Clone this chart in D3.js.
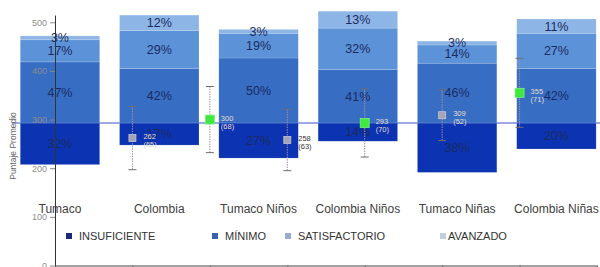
<!DOCTYPE html>
<html>
<head>
<meta charset="utf-8">
<script src="https://cdn.jsdelivr.net/npm/d3@7"></script>
<style>
body { margin: 0; background: #fff; }
svg { display: block; font-family: "Liberation Sans", Arial, sans-serif; }
</style>
</head>
<body>
<div id="graph"></div>
<script>
// Categorías de las barras
let categorias = ["Tumaco", "Colombia", "Tumaco Niños", "Colombia Niños", "Tumaco Niñas", "Colombia Niñas"];
let niveles = ["INSUFICIENTE", "MÍNIMO", "SATISFACTORIO", "AVANZADO"];

// Porcentaje de estudiantes por nivel
let insuficiente  = [32, 17, 27, 14, 38, 20];
let minimo        = [47, 42, 50, 41, 46, 42];
let satisfactorio = [17, 29, 19, 32, 14, 27];
let avanzado      = [ 3, 12,  3, 13,  3, 11];

// Puntaje promedio (desviación estándar)
let grupoPunto = ["Tumaco", "Colombia", "Tumaco", "Colombia", "Tumaco", "Colombia"];
let promedio   = [262, 300, 258, 293, 309, 355];
let desviacion = [ 65,  68,  63,  70,  52,  71];

let ticksPuntaje = [0, 100, 200, 300, 400, 500];

// Colores
let colores = ["#0b33b2", "#376ec4", "#5b92d8", "#8db6e7"];
let colorLeyenda = ["#1a2c78", "#3a62b0", "#98abd0", "#c2cde0"];

let largeurTotale = 600, hauteurTotale = 267;

let svg = d3.select("#graph").append("svg")
    .attr("width", largeurTotale)
    .attr("height", hauteurTotale);

// Echelles
let echelleX = d3.scaleBand()
    .domain(categorias)
    .range([0.4, 616])
    .padding(0.2);

// porcentaje: 0 sobre la línea de corte
let echellePct = d3.scaleLinear()
    .domain([-40, 100])
    .range([175, -7]);

let echellePuntaje = d3.scaleLinear()
    .domain([0, 515])
    .range([265.5, 15]);

let echelleIdx = d3.scaleLinear()
    .domain([0, 7])
    .range([55, 597]);

// Línea de corte
svg.append("line")
    .attr("x1", 12).attr("x2", 600)
    .attr("y1", echellePct(0)).attr("y2", echellePct(0))
    .attr("stroke", "#7b8cdb")
    .attr("stroke-width", 1.5);

// Segmentos apilados
let segmentos = [];
categorias.forEach(function(c, i) {
  let v = [insuficiente[i], minimo[i], satisfactorio[i], avanzado[i]];
  segmentos.push({ cat: c, nivel: 0, y0: 0, y1: -v[0], val: v[0] });
  let acum = 0;
  for (let k = 1; k < 4; k++) {
    segmentos.push({ cat: c, nivel: k, y0: acum, y1: acum + v[k], val: v[k] });
    acum += v[k];
  }
});

svg.selectAll(".seg")
  .data(segmentos)
  .enter()
  .append("rect")
    .attr("class", "seg")
    .attr("x", function(d) { return echelleX(d.cat); })
    .attr("width", echelleX.bandwidth())
    .attr("y", function(d) { return echellePct(Math.max(d.y0, d.y1)); })
    .attr("height", function(d) { return Math.abs(echellePct(d.y0) - echellePct(d.y1)); })
    .style("fill", function(d) { return colores[d.nivel]; })
    .style("stroke", "rgba(255,255,255,0.25)")
    .style("stroke-width", 0.6);

svg.selectAll(".pct")
  .data(segmentos)
  .enter()
  .append("text")
    .attr("class", "pct")
    .attr("x", function(d) { return echelleX(d.cat) + echelleX.bandwidth() / 2; })
    .attr("y", function(d) { return echellePct((d.y0 + d.y1) / 2); })
    .attr("dy", "0.35em")
    .attr("text-anchor", "middle")
    .style("font-size", "12.5px")
    .style("fill", "#1b2b62")
    .text(function(d) { return d.val + "%"; });

// Eje Y
let axeY = d3.axisLeft(echellePuntaje)
    .tickValues(ticksPuntaje)
    .tickSize(5)
    .tickSizeOuter(0);

let gY = svg.append("g")
    .attr("transform", "translate(55,0)")
    .call(axeY);
gY.select(".domain").attr("stroke", "#333");
gY.selectAll(".tick line").attr("stroke", "#888");
gY.selectAll(".tick text")
    .style("font-size", "9px")
    .style("fill", "#8c8c8c")
    .attr("x", -8);

svg.append("text")
    .attr("transform", "translate(16,146) rotate(-90)")
    .attr("text-anchor", "middle")
    .style("font-size", "8.5px")
    .style("fill", "#666")
    .text("Puntaje Promedio");

// Eje X
let axeX = d3.axisBottom(echelleIdx)
    .tickValues(d3.range(0, 8))
    .tickSize(3)
    .tickSizeOuter(0)
    .tickFormat("");
let gX = svg.append("g")
    .attr("transform", "translate(0,265.5)")
    .call(axeX);
gX.select(".domain").attr("stroke", "#444");
gX.selectAll(".tick line").attr("stroke", "#666");

// Etiquetas de categoría
svg.selectAll(".cat")
  .data(categorias)
  .enter()
  .append("text")
    .attr("class", "cat")
    .attr("x", function(d) { return echelleX(d) + echelleX.bandwidth() / 2; })
    .attr("y", 213)
    .attr("text-anchor", "middle")
    .style("font-size", "12px")
    .style("fill", "#404040")
    .text(function(d) { return d; });

// Leyenda
let leyendaX = [66, 212, 285, 440];
let leyenda = svg.selectAll(".ley")
  .data(niveles)
  .enter()
  .append("g")
    .attr("class", "ley")
    .attr("transform", function(d, i) { return "translate(" + leyendaX[i] + ",236)"; });
leyenda.append("rect")
    .attr("x", 0).attr("y", -3)
    .attr("width", 6).attr("height", 6)
    .style("fill", function(d, i) { return colorLeyenda[i]; });
leyenda.append("text")
    .attr("x", function(d, i) { return i == 3 ? 8 : 13; })
    .attr("y", 4)
    .style("font-size", "11px")
    .style("fill", "#333")
    .text(function(d) { return d; });

// Puntajes con barras de error
let puntos = promedio.map(function(m, i) {
  return { idx: i + 1, m: m, sd: desviacion[i], grupo: grupoPunto[i] };
});

let gp = svg.selectAll(".pt")
  .data(puntos)
  .enter()
  .append("g")
    .attr("class", "pt");

gp.append("line")
    .attr("x1", function(d) { return echelleIdx(d.idx); })
    .attr("x2", function(d) { return echelleIdx(d.idx); })
    .attr("y1", function(d) { return echellePuntaje(d.m - d.sd); })
    .attr("y2", function(d) { return echellePuntaje(d.m + d.sd); })
    .attr("stroke", "#a48aa0")
    .attr("stroke-width", 1)
    .attr("stroke-dasharray", "1.5,1");

[-1, 1].forEach(function(s) {
  gp.append("line")
      .attr("x1", function(d) { return echelleIdx(d.idx) - 4; })
      .attr("x2", function(d) { return echelleIdx(d.idx) + 4; })
      .attr("y1", function(d) { return echellePuntaje(d.m + s * d.sd); })
      .attr("y2", function(d) { return echellePuntaje(d.m + s * d.sd); })
      .attr("stroke", "#6e6e6e")
      .attr("stroke-width", 1);
});

gp.append("rect")
    .attr("x", function(d) { return echelleIdx(d.idx) - (d.grupo == "Tumaco" ? 3.5 : 4.5); })
    .attr("y", function(d) { return echellePuntaje(d.m) - (d.grupo == "Tumaco" ? 3.5 : 4.5); })
    .attr("width", function(d) { return d.grupo == "Tumaco" ? 7 : 9; })
    .attr("height", function(d) { return d.grupo == "Tumaco" ? 7 : 9; })
    .style("fill", function(d) { return d.grupo == "Tumaco" ? "#a4a4b6" : "#3ee83e"; })
    .style("stroke", function(d) { return d.grupo == "Tumaco" ? "#c6c6d6" : "#7cf07c"; })
    .style("stroke-width", 0.8);

// ¿la etiqueta cae sobre una barra?
function sobreBarra(x) {
  return categorias.some(function(c) {
    return x >= echelleX(c) && x <= echelleX(c) + echelleX.bandwidth();
  });
}

let etiq = gp.append("text")
    .attr("x", function(d) { return echelleIdx(d.idx) + 11; })
    .attr("y", function(d) { return echellePuntaje(d.m) + 1; })
    .style("font-size", "7.5px")
    .style("fill", function(d) { return sobreBarra(echelleIdx(d.idx) + 14) ? "#e4ddcc" : "#333"; });
etiq.append("tspan").text(function(d) { return d.m; });
etiq.append("tspan")
    .attr("x", function(d) { return echelleIdx(d.idx) + 11; })
    .attr("dy", 8)
    .text(function(d) { return "(" + d.sd + ")"; });
</script>
</body>
</html>
